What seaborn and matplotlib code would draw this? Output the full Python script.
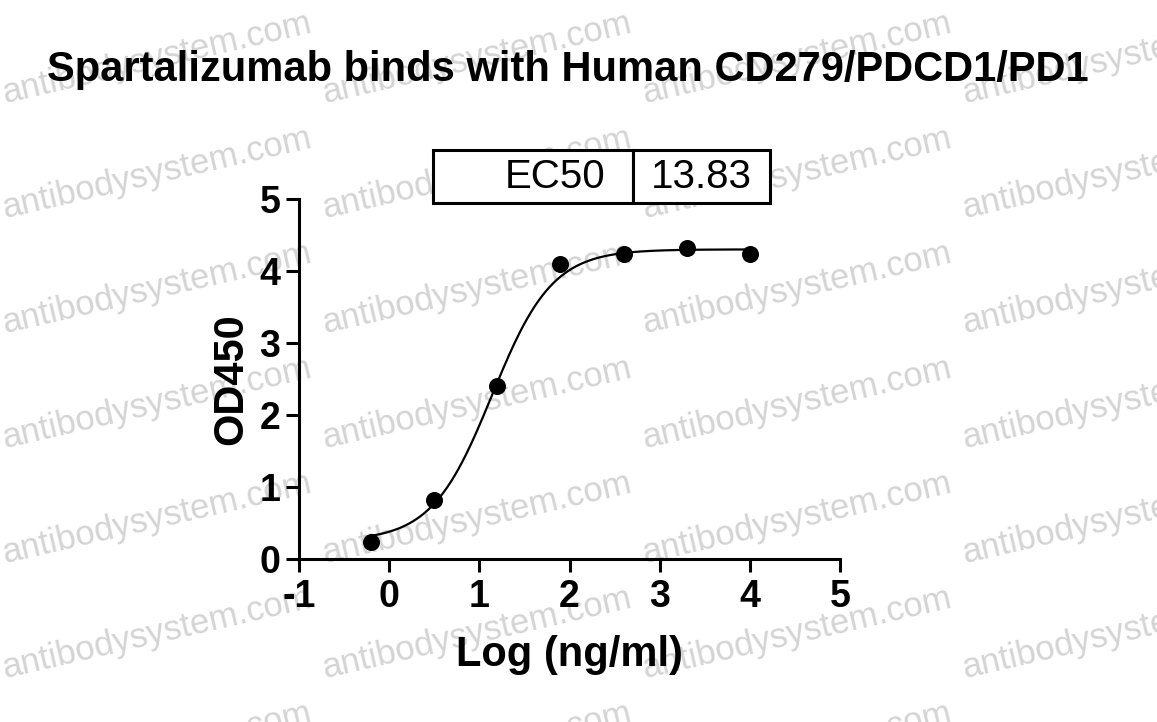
import numpy as np
import pandas as pd
import matplotlib
matplotlib.use("Agg")
import matplotlib.pyplot as plt
import seaborn as sns

# ---- data ----
log_conc = [-0.2, 0.5, 1.2, 1.9, 2.6, 3.3, 4.0]
od450 = [0.23, 0.82, 2.40, 4.10, 4.23, 4.32, 4.23]
ec50 = 13.83
fit_bottom = 0.25
fit_top = 4.30
fit_hill = 1.3
x_ticks = [-1, 0, 1, 2, 3, 4, 5]
y_ticks = [0, 1, 2, 3, 4, 5]
title = "Spartalizumab binds with Human CD279/PDCD1/PD1"
watermark = "antibodysystem.com"

sns.set_theme(style="ticks")
plt.rcParams['font.family'] = ['Liberation Sans', 'DejaVu Sans']
plt.rcParams['text.color'] = 'black'
plt.rcParams['axes.labelcolor'] = 'black'
plt.rcParams['xtick.color'] = 'black'
plt.rcParams['ytick.color'] = 'black'

fig = plt.figure(figsize=(11.57, 7.22), dpi=100)
fig.patch.set_facecolor("white")

# watermark tiles
W, H = 1157, 722
for cx in [157, 477, 797, 1117]:
    for cy in [58, 173, 288, 403, 518, 633, 748]:
        fig.text(cx / W, 1 - cy / H, watermark, rotation=13, fontsize=25,
                 color="#d4d4d4", ha="center", va="center",
                 rotation_mode="anchor", zorder=-5)

ax = fig.add_axes([299 / W, 1 - 559 / H, (840 - 299) / W, (559 - 199) / H])
ax.set_facecolor("none")

df_pts = pd.DataFrame({"x": log_conc, "y": od450})
xs = np.linspace(min(log_conc), max(log_conc), 300)
ys = fit_bottom + (fit_top - fit_bottom) / (1 + 10 ** ((np.log10(ec50) - xs) * fit_hill))
df_fit = pd.DataFrame({"x": xs, "y": ys})

sns.lineplot(data=df_fit, x="x", y="y", ax=ax, color="black", lw=1.6, zorder=3)
sns.scatterplot(data=df_pts, x="x", y="y", ax=ax, color="black", s=150,
                edgecolor="black", linewidth=0, zorder=4)

ax.set_xlim(-1, 5)
ax.set_ylim(0, 5)
ax.set_xticks(x_ticks)
ax.set_yticks(y_ticks)
ax.set_xticklabels([str(t) for t in x_ticks], fontsize=27, fontweight="bold")
ax.set_yticklabels([str(t) for t in y_ticks], fontsize=27, fontweight="bold")
for sp in ["top", "right"]:
    ax.spines[sp].set_visible(False)
for sp in ["left", "bottom"]:
    ax.spines[sp].set_linewidth(2.2)
    ax.spines[sp].set_color("black")
ax.tick_params(axis="both", direction="out", length=9.5, width=2.2, color="black",
               labelcolor="black")
ax.tick_params(axis="x", pad=5)
ax.tick_params(axis="y", pad=4)
ax.set_xlabel("Log (ng/ml)", fontsize=30, fontweight="bold", labelpad=14)
ax.set_ylabel("OD450", fontsize=30, fontweight="bold", labelpad=6)

fig.text(568 / W, 1 - 70 / H, title, fontsize=30, fontweight="bold",
         ha="center", va="center", color="black")

# EC50 table
tbl = ax.table(cellText=[["EC50", f"{ec50:.2f}"]],
               colWidths=[200 / 541, 137 / 541],
               bbox=[(433 - 299) / 541, (559 - 203) / 360, (770 - 433) / 541, 53 / 360],
               cellLoc="center")
tbl.auto_set_font_size(False)
for (r, c), cell in tbl.get_celld().items():
    cell.set_linewidth(2.2)
    cell.set_edgecolor("black")
    cell.set_facecolor("white")
    cell.get_text().set_fontsize(29)
    cell.get_text().set_color("black")
    if c == 0:
        cell.get_text().set_ha("right")
        cell._loc = "right"
        cell.PAD = 0.14
tbl.set_clip_on(False)
tbl.set_zorder(5)

fig.savefig("out.png", dpi=100)
